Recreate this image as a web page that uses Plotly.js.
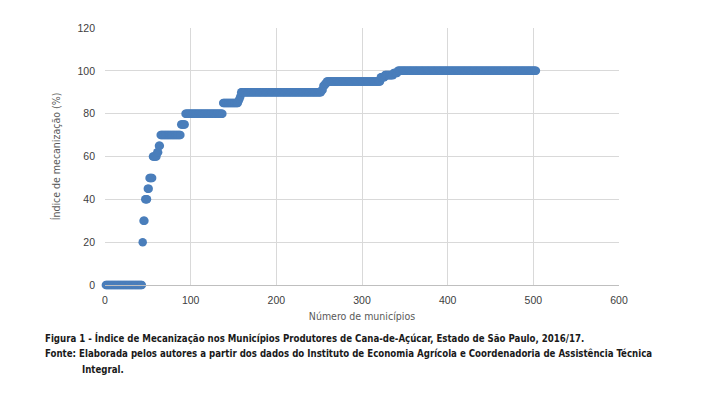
<!DOCTYPE html>
<html>
<head>
<meta charset="utf-8">
<script src="https://cdn.plot.ly/plotly-3.0.1.min.js"></script>
<style>html,body{margin:0;padding:0;background:#fff;}#chart{width:707px;height:396px;}</style>
</head>
<body>
<div id="chart"></div>
<script>
// Step levels (index %) and how many municipalities sit at each level
const levels = [0, 20, 30, 40, 45, 50, 60, 62, 65, 70, 75, 80, 85, 86, 87, 88, 90, 91, 93, 94, 95, 97, 98, 99, 100];
const counts = [43, 1, 2, 3, 2, 4, 5, 2, 2, 24, 5, 44, 18, 1, 1, 1, 94, 2, 2, 2, 63, 5, 10, 5, 162];
const xTicks = [0, 100, 200, 300, 400, 500, 600];
const yTicks = [0, 20, 40, 60, 80, 100, 120];

const xs = [], ys = [];
let n = 1;
levels.forEach((lv, i) => { for (let k = 0; k < counts[i]; k++) { xs.push(n++); ys.push(lv); } });

const font = "'DejaVu Sans Condensed', 'DejaVu Sans', sans-serif";
const tickFont = "'Liberation Sans', Arial, sans-serif";
const trace = {
  type: 'scatter', mode: 'markers', x: xs, y: ys, cliponaxis: false,
  marker: {color: '#4A7EBB', size: 8.5}, hoverinfo: 'skip'
};
const W = 707, L = 105, R = 88;
const pw = W - L - R;
const px = v => (v - L) / pw;
const layout = {
  width: 707, height: 396,
  margin: {l: L, r: R, t: 28, b: 111},
  paper_bgcolor: '#fff', plot_bgcolor: '#fff',
  showlegend: false,
  font: {family: tickFont, size: 10.5, color: '#404040'},
  xaxis: {range: [0, 600], tickvals: xTicks, ticktext: xTicks.map(String), showgrid: true, gridcolor: '#d9d9d9', gridwidth: 1,
    zeroline: false, showline: true, linecolor: '#bfbfbf', ticks: '', ticklen: 0, ticklabelstandoff: 5,
    title: {text: 'Número de municípios', font: {family: font, size: 10.5, color: '#595959'}, standoff: 8}},
  yaxis: {range: [0, 120], tickvals: yTicks, ticktext: yTicks.map(String), showgrid: true, gridcolor: '#d9d9d9', gridwidth: 1,
    zeroline: false, showline: false, ticks: '', ticklen: 0, ticklabelstandoff: 9,
    title: {text: 'Índice de mecanização (%)', font: {family: font, size: 10.5, color: '#595959'}, standoff: 14}},
  annotations: [
    {xref: 'paper', yref: 'paper', x: px(43), y: -0.205, xanchor: 'left', yanchor: 'middle', showarrow: false,
      text: '<b>Figura 1 - Índice de Mecanização nos Municípios Produtores de Cana-de-Açúcar, Estado de São Paulo, 2016/17.</b>',
      font: {family: font, size: 9.6, color: '#1a1a1a'}},
    {xref: 'paper', yref: 'paper', x: px(43), y: -0.267, xanchor: 'left', yanchor: 'middle', showarrow: false,
      text: '<b>Fonte: Elaborada pelos autores a partir dos dados do Instituto de Economia Agrícola e Coordenadoria de Assistência Técnica</b>',
      font: {family: font, size: 9.6, color: '#1a1a1a'}},
    {xref: 'paper', yref: 'paper', x: px(80), y: -0.329, xanchor: 'left', yanchor: 'middle', showarrow: false,
      text: '<b>Integral.</b>',
      font: {family: font, size: 9.6, color: '#1a1a1a'}}
  ]
};
Plotly.newPlot('chart', [trace], layout, {displayModeBar: false, staticPlot: true});
</script>
</body>
</html>
